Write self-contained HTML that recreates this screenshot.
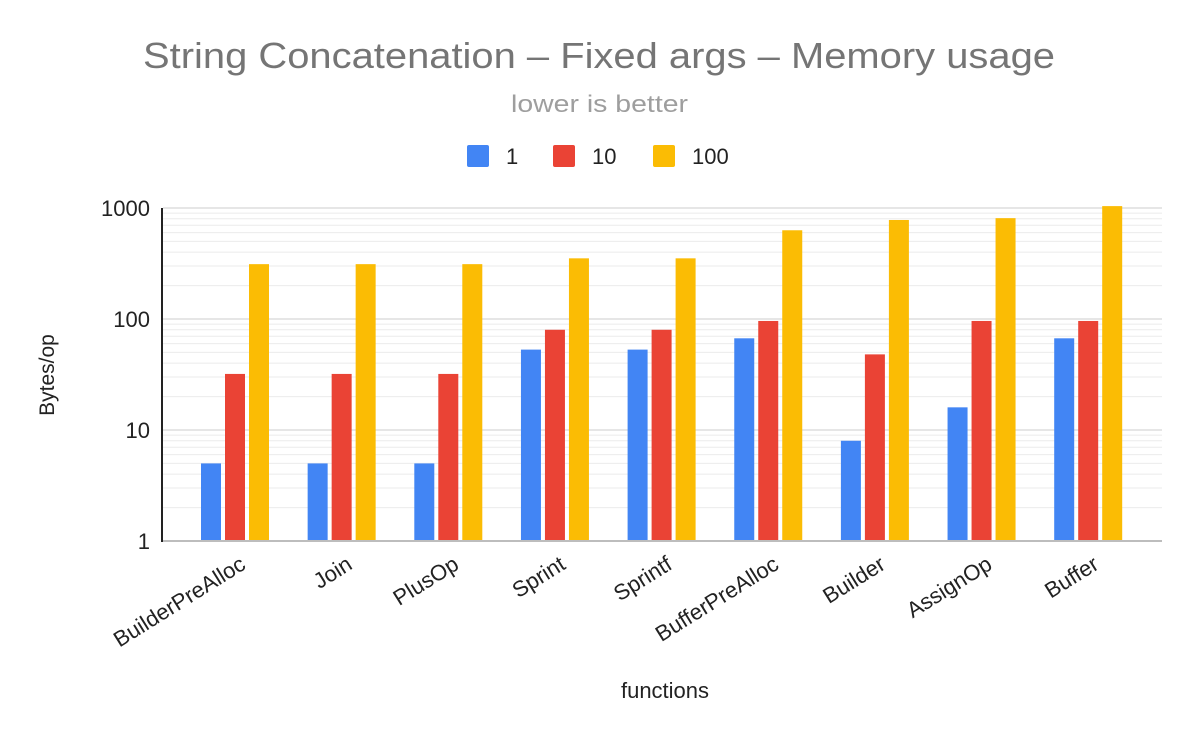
<!DOCTYPE html>
<html><head><meta charset="utf-8"><style>
body{margin:0;background:#fff;font-family:"Liberation Sans",sans-serif}
</style></head><body>
<svg width="1196" height="738" viewBox="0 0 1196 738" xmlns="http://www.w3.org/2000/svg">
<rect width="1196" height="738" fill="#fff"/>
<text x="143" y="68" font-size="36" fill="#757575" textLength="912" lengthAdjust="spacingAndGlyphs">String Concatenation – Fixed args – Memory usage</text>
<text x="511" y="112" font-size="24" fill="#9e9e9e" textLength="177" lengthAdjust="spacingAndGlyphs">lower is better</text>
<g id="legend"></g>
<g id="grid"></g>
<g id="bars"></g>
<g id="labels"></g>
<line x1="163" y1="541" x2="1162" y2="541" stroke="#bdbdbd" stroke-width="2"/>
<line x1="162" y1="208" x2="162" y2="542" stroke="#222" stroke-width="2"/>
<text x="54" y="375" text-anchor="middle" font-size="21" fill="#222" transform="rotate(-90 54 375)">Bytes/op</text>
<text x="665" y="698" text-anchor="middle" font-size="22" fill="#222">functions</text>
</svg>
<script>
const categories=["BuilderPreAlloc","Join","PlusOp","Sprint","Sprintf","BufferPreAlloc","Builder","AssignOp","Buffer"];
const seriesNames=["1","10","100"];
const s1=[5,5,5,53,53,67,8,16,67];
const s10=[32,32,32,80,80,96,48,96,96];
const s100=[312,312,312,352,352,630,780,810,1040];
const yTicks=[1,10,100,1000];
const colors=["#4285f4","#ea4335","#fbbc04"];
const NS="http://www.w3.org/2000/svg";
function mk(t,a,p){const e=document.createElementNS(NS,t);for(const k in a)e.setAttribute(k,a[k]);p.appendChild(e);return e;}
const y=v=>541-Math.log10(v)*111;
const x=i=>235+i*106.65;
const grid=document.getElementById('grid');
for(let d=0;d<3;d++)for(let m=2;m<10;m++){const v=m*Math.pow(10,d);const l=mk('line',{x1:163,x2:1162,y1:y(v),y2:y(v),stroke:'#ebebeb','stroke-width':1},grid);

}
yTicks.forEach(v=>{const l=mk('line',{x1:163,x2:1162,y1:y(v),y2:y(v),stroke:'#cccccc','stroke-width':1},grid);


const t=mk('text',{x:150,y:y(v)+8,'text-anchor':'end','font-size':22,fill:'#222'},grid);t.textContent=v;

});
const bars=document.getElementById('bars');
[s1,s10,s100].forEach((s,k)=>s.forEach((v,i)=>{const b=mk('rect',{x:x(i)-34+k*24,y:y(v),width:20,height:541-y(v),fill:colors[k]},bars);

}));
const labels=document.getElementById('labels');
categories.forEach((c,i)=>{const lx=x(i)+12,ly=568;const t=mk('text',{x:lx,y:ly,'text-anchor':'end','font-size':22,fill:'#222',transform:`rotate(-32 ${lx} ${ly})`},labels);t.textContent=c;

});
const lg=document.getElementById('legend');
const lx=[467,553,653];
seriesNames.forEach((n,k)=>{const r=mk('rect',{x:lx[k],y:145,width:22,height:22,rx:2,fill:colors[k]},lg);


const t=mk('text',{x:lx[k]+39,y:164,'font-size':22,fill:'#222'},lg);t.textContent=n;

});
</script>
</body></html>
